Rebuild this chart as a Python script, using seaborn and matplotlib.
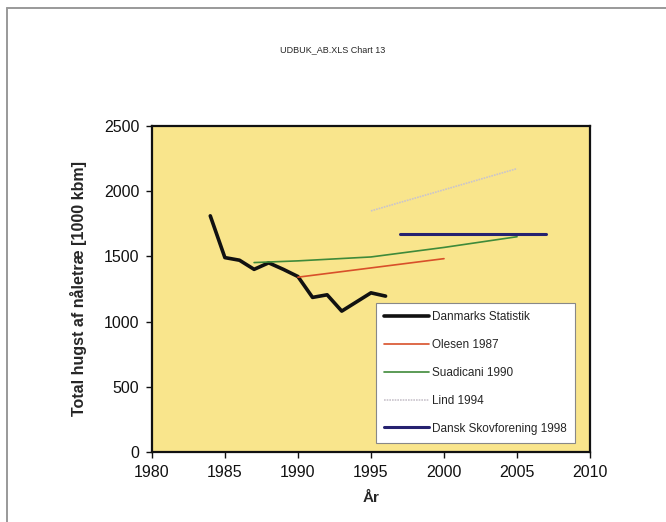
import matplotlib
matplotlib.use("Agg")
import matplotlib.pyplot as plt
import seaborn as sns
import pandas as pd
from matplotlib.lines import Line2D

sns.set_theme(style="white")
plt.rcParams['font.family'] = ['Liberation Sans', 'DejaVu Sans']

# Data
ds_years = [1984, 1985, 1986, 1987, 1988, 1989, 1990, 1991, 1992, 1993, 1994, 1995, 1996]
ds_vals = [1810, 1490, 1470, 1400, 1450, 1400, 1345, 1185, 1205, 1080, 1150, 1220, 1195]
olesen_years = [1990, 2000]
olesen_vals = [1340, 1482]
suad_years = [1987, 1990, 1995, 2000, 2005]
suad_vals = [1452, 1465, 1495, 1568, 1650]
lind_years = [1995, 2005]
lind_vals = [1848, 2172]
dsf_years = [1997, 2007]
dsf_vals = [1668, 1668]

series = [
    ("Danmarks Statistik", ds_years, ds_vals, "#111111", 2.6, "-"),
    ("Olesen 1987", olesen_years, olesen_vals, "#d8502a", 1.2, "-"),
    ("Suadicani 1990", suad_years, suad_vals, "#3f8a3a", 1.2, "-"),
    ("Lind 1994", lind_years, lind_vals, "#c9c4cc", 1.2, (0, (1, 0.6))),
    ("Dansk Skovforening 1998", dsf_years, dsf_vals, "#262270", 2.2, "-"),
]

fig = plt.figure(figsize=(6.66, 5.22), dpi=100)
fig.patch.set_facecolor("white")
ax = fig.add_axes([0.228, 0.134, 0.658, 0.625])
ax.set_facecolor("#F9E58C")

handles = []
for name, xs, ys, col, lw, ls in series:
    df = pd.DataFrame({"x": xs, "y": ys})
    sns.lineplot(data=df, x="x", y="y", ax=ax, color=col, linewidth=lw,
                 linestyle=ls, legend=False)
    handles.append(Line2D([0], [0], color=col, linewidth=lw, linestyle=ls))

ax.set_xlim(1980, 2010)
ax.set_ylim(0, 2500)
ax.set_xticks(range(1980, 2011, 5))
ax.set_yticks(range(0, 2501, 500))
ax.tick_params(axis="both", labelsize=11.5, length=4, width=1, direction="out",
               bottom=True, left=True, colors="#111111", pad=5)
for s in ax.spines.values():
    s.set_visible(True)
    s.set_color("#111111")
    s.set_linewidth(1.6)

ax.set_xlabel("År", fontsize=11, fontweight="bold", labelpad=8)
ax.set_ylabel("Total hugst af nåletræ [1000 kbm]", fontsize=11.5, fontweight="bold", labelpad=12)

leg = ax.legend(handles, [s[0] for s in series], loc="lower right",
                bbox_to_anchor=(0.98, 0.01), fontsize=8.5, frameon=True,
                fancybox=False, edgecolor="#888888", facecolor="white",
                framealpha=1, handlelength=3.8, labelspacing=1.35,
                borderpad=0.7, handletextpad=0.3)
leg.get_frame().set_linewidth(0.8)

fig.text(0.5, 0.905, "UDBUK_AB.XLS Chart 13", ha="center", va="center", fontsize=6.5)

# page frame lines
fig.add_artist(Line2D([0.011, 0.011], [0.0, 0.985], color="#999999", linewidth=1.4))
fig.add_artist(Line2D([0.011, 1.0], [0.985, 0.985], color="#999999", linewidth=1.4))

fig.savefig("out.png", dpi=100)
